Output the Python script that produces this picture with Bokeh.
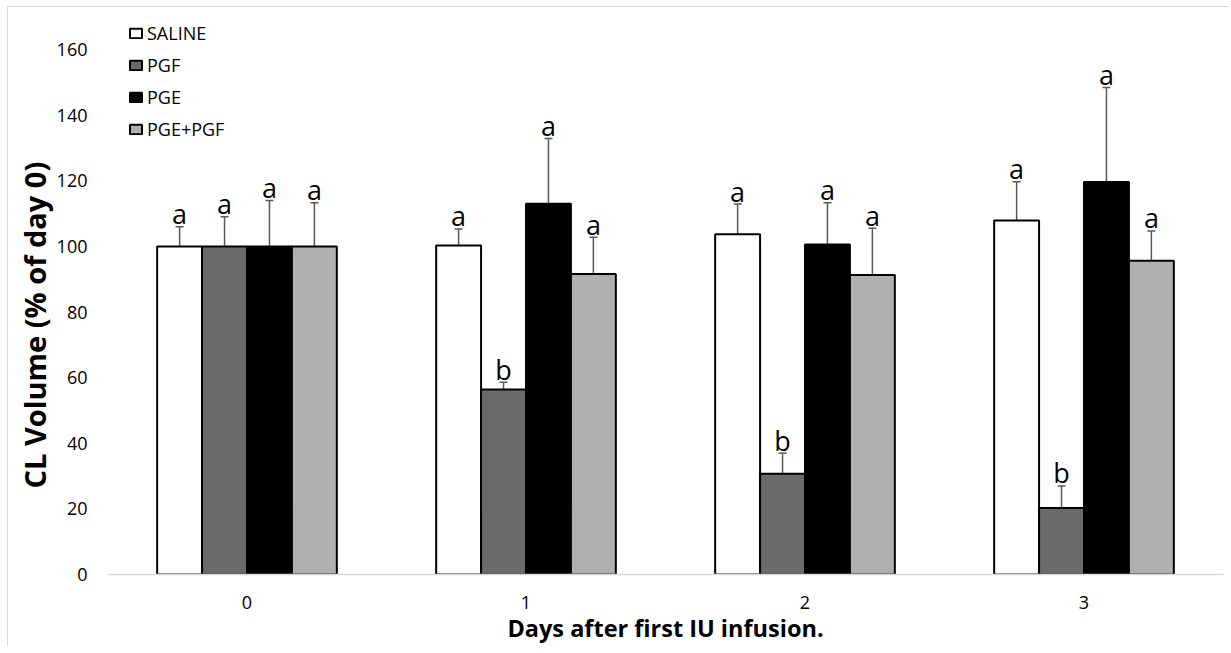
import numpy as np
from bokeh.plotting import figure
from bokeh.models import (ColumnDataSource, Range1d, FixedTicker, Legend, LegendItem,
                          Whisker, TeeHead, Title)
from bokeh.core.properties import value
from bokeh.embed import file_html
from bokeh.resources import INLINE

# ---- data ----
days = ["0", "1", "2", "3"]
series_names = ["SALINE", "PGF", "PGE", "PGE+PGF"]
saline = [100.0, 100.3, 103.7, 107.9]
saline_err = [6.0, 5.0, 9.2, 11.8]
pgf = [100.0, 56.4, 30.7, 20.3]
pgf_err = [9.0, 2.2, 6.3, 6.7]
pge = [100.0, 113.0, 100.6, 119.6]
pge_err = [14.0, 19.9, 12.7, 28.8]
pge_pgf = [100.0, 91.6, 91.3, 95.6]
pge_pgf_err = [13.3, 11.2, 14.2, 9.1]
saline_letters = ["a", "a", "a", "a"]
pgf_letters = ["a", "b", "b", "b"]
pge_letters = ["a", "a", "a", "a"]
pge_pgf_letters = ["a", "a", "a", "a"]
y_ticks = [0, 20, 40, 60, 80, 100, 120, 140, 160]

# ---- styling / layout ----
FONT = "Open Sans"
fills = ["#ffffff", "#6b6b6b", "#000000", "#b0b0b0"]
bar_w = 0.161
offsets = [-1.5 * bar_w, -0.5 * bar_w, 0.5 * bar_w, 1.5 * bar_w]
FRAME_W, FRAME_H = 1116, 560
TOP_PAD_PX = 35          # empty frame space above the 160 line
y_end = 160 * FRAME_H / (FRAME_H - TOP_PAD_PX)

p = figure(frame_width=FRAME_W, frame_height=FRAME_H, output_backend="svg",
           toolbar_location=None,
           x_range=Range1d(-0.5, 3.5), y_range=Range1d(0, y_end),
           min_border_left=99, min_border_right=6, min_border_top=7, min_border_bottom=60,
           background_fill_color="white", border_fill_color="white")
p.styles = {"margin-left": "7px", "margin-top": "6px",
            "border-left": "1px solid #d9d9d9", "border-top": "1px solid #d9d9d9"}
p.outline_line_color = None
p.xgrid.visible = False
p.ygrid.visible = False

vals = [saline, pgf, pge, pge_pgf]
errs = [saline_err, pgf_err, pge_err, pge_pgf_err]
lets = [saline_letters, pgf_letters, pge_letters, pge_pgf_letters]

items = []
idx = np.arange(len(days))
for k in range(4):
    v = np.array(vals[k])
    e = np.array(errs[k])
    src = ColumnDataSource(dict(x=idx + offsets[k], top=v, upper=v + e, lower=v - e,
                                lab=lets[k]))
    r = p.vbar(x="x", top="top", bottom=0, width=bar_w, source=src,
               fill_color=fills[k], line_color="#000000", line_width=2)
    items.append(LegendItem(label=series_names[k], renderers=[r]))
    w = Whisker(base="x", upper="upper", lower="lower", source=src, dimension="height",
                line_color="#595959", line_width=1.5,
                upper_head=TeeHead(size=8, line_color="#595959", line_width=1.5),
                lower_head=TeeHead(size=8, line_color="#595959", line_width=1.5))
    p.add_layout(w)
    p.text(x="x", y="upper", text="lab", source=src, y_offset=-13,
           text_align="center", text_baseline="alphabetic",
           text_font=value(FONT), text_font_size="27px", text_color="#000000")

# x axis
p.xaxis.ticker = FixedTicker(ticks=list(range(len(days))))
p.xaxis.major_label_overrides = {i: d for i, d in enumerate(days)}
p.xaxis.axis_line_color = "#d9d9d9"
p.xaxis.axis_line_width = 1.5
p.xaxis.major_tick_line_color = None
p.xaxis.minor_tick_line_color = None
p.xaxis.major_tick_out = 0
p.xaxis.major_tick_in = 0
p.xaxis.major_label_standoff = 21
p.xaxis.major_label_text_font = FONT
p.xaxis.major_label_text_font_size = "18px"
p.xaxis.major_label_text_color = "#000000"
p.xaxis.axis_label = "Days after first IU infusion."
p.xaxis.axis_label_text_font = FONT
p.xaxis.axis_label_text_font_style = "bold"
p.xaxis.axis_label_text_font_size = "23.5px"
p.xaxis.axis_label_text_color = "#000000"
p.xaxis.axis_label_standoff = 0

# y axis
p.yaxis.ticker = FixedTicker(ticks=y_ticks)
p.yaxis.axis_line_color = None
p.yaxis.major_tick_line_color = None
p.yaxis.minor_tick_line_color = None
p.yaxis.major_tick_out = 0
p.yaxis.major_tick_in = 0
p.yaxis.major_label_standoff = 20
p.yaxis.major_label_text_font = FONT
p.yaxis.major_label_text_font_size = "18px"
p.yaxis.major_label_text_color = "#000000"

ytitle = Title(text="CL Volume (% of day 0)", align="left", offset=86, standoff=0,
               text_font=FONT, text_font_style="bold", text_font_size="29px",
               text_color="#000000")
p.add_layout(ytitle, "left")

legend = Legend(items=items, location=(21, 433), orientation="vertical",
                glyph_width=15, glyph_height=12, label_standoff=4,
                label_text_font=FONT, label_text_font_size="18px", label_text_color="#000000",
                label_height=20, spacing=8, padding=5, margin=0,
                border_line_color=None, background_fill_alpha=0)
p.add_layout(legend)

open("out.html", "w").write(file_html(p, INLINE))
